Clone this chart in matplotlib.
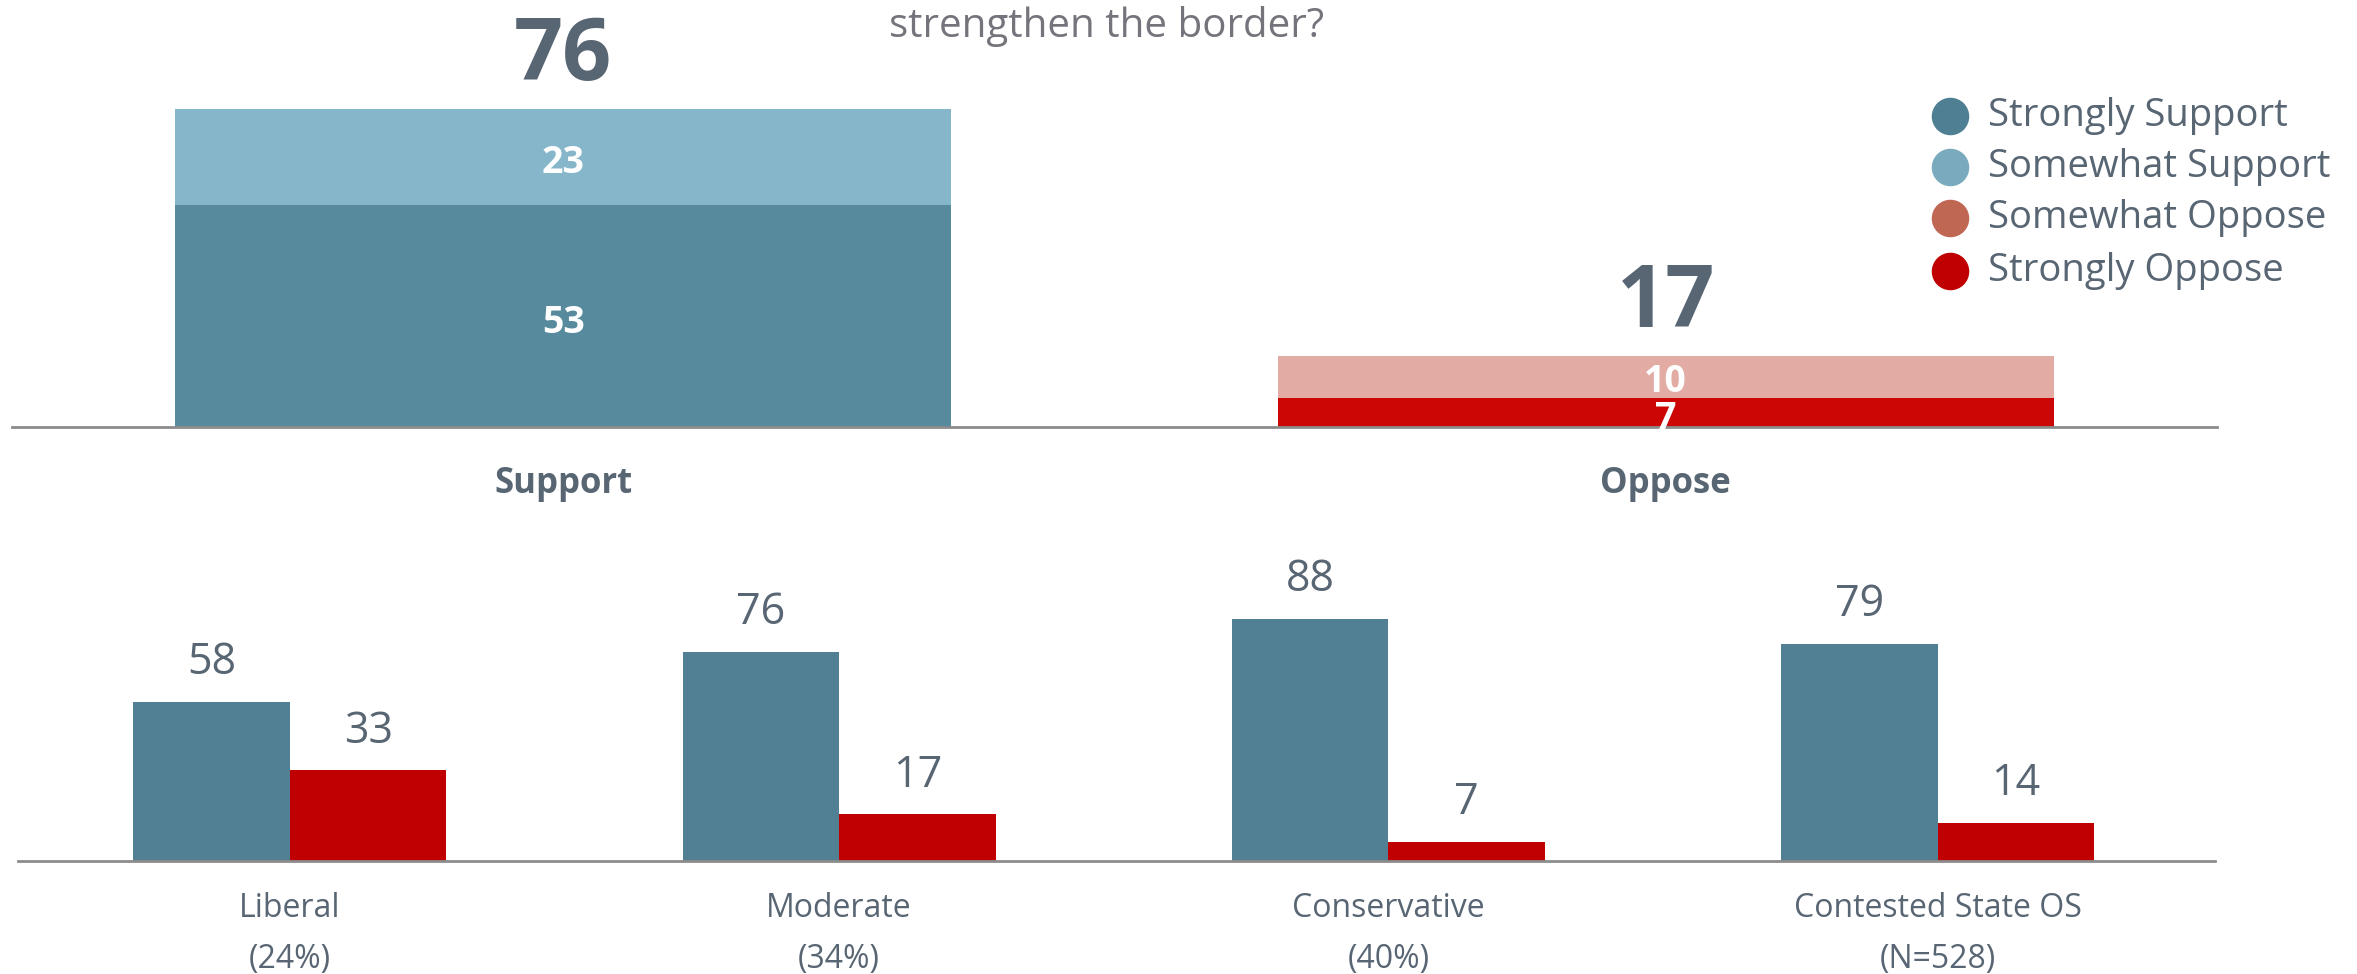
import matplotlib.pyplot as plt
from matplotlib.lines import Line2D

# top chart: overall support / oppose
top_cats = ['Support', 'Oppose']
top_strong = [53, 7]
top_somewhat = [23, 10]
top_total = [76, 17]

# bottom chart: by ideology
groups = ['Liberal\n(24%)', 'Moderate\n(34%)', 'Conservative\n(40%)',
          'Contested State OS\n(N=528)']
grp_support = [58, 76, 88, 79]
grp_oppose = [33, 17, 7, 14]

legend_labels = ['Strongly Support', 'Somewhat Support',
                 'Somewhat Oppose', 'Strongly Oppose']
legend_colors = ['#4F7F93', '#7AAABD', '#C06754', '#C00000']

plt.rcParams['font.family'] = ['Open Sans', 'DejaVu Sans']
txt = '#586573'

W, H = 2357, 974
fig = plt.figure(figsize=(W / 100, H / 100), dpi=100)

# top axes
ax1 = fig.add_axes([12 / W, 1 - 427 / H, 2205 / W, 418 / H])
xs = range(len(top_cats))
strong_cols = ['#588A9E', '#CC0505']
some_cols = ['#86B6CA', '#E2ABA4']
ax1.bar(xs, top_strong, width=0.704, color=strong_cols)
ax1.bar(xs, top_somewhat, width=0.704, bottom=top_strong, color=some_cols)
for i in xs:
    ax1.annotate(str(top_strong[i]), (i, top_strong[i] / 2), xytext=(0, -5),
                 textcoords='offset points', ha='center', va='center',
                 color='white', fontsize=27, fontweight='bold')
    ax1.annotate(str(top_somewhat[i]), (i, top_strong[i] + top_somewhat[i] / 2),
                 xytext=(0, -4), textcoords='offset points', ha='center',
                 va='center', color='white', fontsize=27, fontweight='bold')
    ax1.annotate(str(top_total[i]), (i, top_total[i]), xytext=(0, 37),
                 textcoords='offset points', ha='center', va='center',
                 fontsize=62, fontweight='bold', color=txt,
                 annotation_clip=False)
ax1.set_xlim(-0.5, 1.5)
ax1.set_ylim(0, 100)
ax1.set_xticks(list(xs))
ax1.set_xticklabels(top_cats, fontsize=25, fontweight='bold', color=txt)
ax1.tick_params(axis='x', length=0, pad=28)
ax1.set_yticks([])
for s in ['top', 'left', 'right']:
    ax1.spines[s].set_visible(False)
ax1.spines['bottom'].set_color('#8C8C8C')
ax1.spines['bottom'].set_linewidth(2)
ax1.patch.set_visible(False)

# bottom axes
ax2 = fig.add_axes([18 / W, 1 - 861 / H, 2197 / W, 275 / H])
gx = list(range(len(groups)))
bw = 0.285
ax2.bar([x - bw / 2 for x in gx], grp_support, width=bw, color='#517F93')
ax2.bar([x + bw / 2 for x in gx], grp_oppose, width=bw, color='#C00000')
for i in gx:
    ax2.annotate(str(grp_support[i]), (i - bw / 2, grp_support[i]),
                 xytext=(0, 28), textcoords='offset points', ha='center',
                 va='center', fontsize=31, color=txt, annotation_clip=False)
    ax2.annotate(str(grp_oppose[i]), (i + bw / 2, grp_oppose[i]),
                 xytext=(0, 28), textcoords='offset points', ha='center',
                 va='center', fontsize=31, color=txt, annotation_clip=False)
ax2.set_xlim(-0.495, 3.505)
ax2.set_ylim(0, 100)
ax2.set_xticks(gx)
ax2.set_xticklabels(groups, fontsize=23, color=txt, linespacing=1.75)
ax2.tick_params(axis='x', length=0, pad=22)
ax2.set_yticks([])
for s in ['top', 'left', 'right']:
    ax2.spines[s].set_visible(False)
ax2.spines['bottom'].set_color('#8C8C8C')
ax2.spines['bottom'].set_linewidth(2)
ax2.patch.set_visible(False)

# title (cut off at the top in the original)
fig.text(1107 / W, 1 - 37 / H, 'strengthen the border?', ha='center',
         va='baseline', fontsize=29, color='#74747C')

# legend
leg_y = [116, 167, 218, 271]
for lab, col, y in zip(legend_labels, legend_colors, leg_y):
    fig.add_artist(Line2D([1950 / W], [1 - y / H], marker='o',
                          markersize=26, color=col, linestyle='none',
                          transform=fig.transFigure))
    fig.text(1988 / W, 1 - y / H, lab, ha='left', va='center',
             fontsize=27.5, color=txt)

fig.savefig('out.png', dpi=100)
